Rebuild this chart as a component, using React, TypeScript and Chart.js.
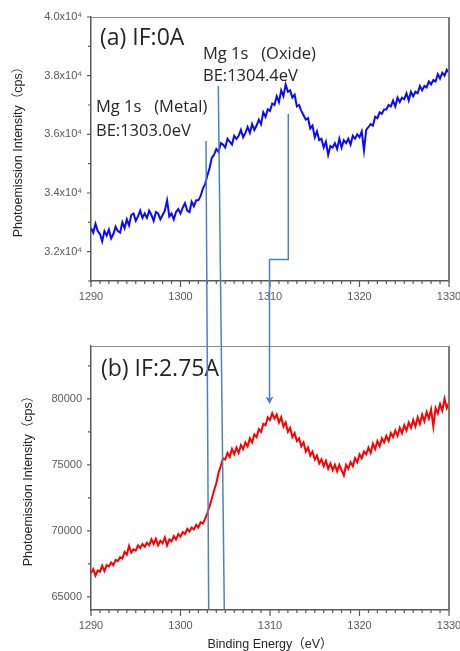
import React, { useEffect, useRef } from 'react';
import { Chart, registerables } from 'chart.js';

Chart.register(...registerables);

// ---- data ----
const ENERGY_START = 1290; // eV, first sample
const ENERGY_STEP = 0.25; // eV, sampling step
const X_MIN = 1290;
const X_MAX = 1330;
const X_MAJOR_TICKS = [1290, 1300, 1310, 1320, 1330];
const X_MINOR_STEP = 1;

const TOP_Y_MIN = 31000;
const TOP_Y_MAX = 40000;
const TOP_Y_MAJOR = [32000, 34000, 36000, 38000, 40000];
const TOP_Y_MINOR = [31000, 33000, 35000, 37000, 39000];

const BOTTOM_Y_MIN = 64000;
const BOTTOM_Y_MAX = 84000;
const BOTTOM_Y_MAJOR = [65000, 70000, 75000, 80000];
const BOTTOM_Y_MINOR = [67500, 72500, 77500, 82500];

// (a) IF:0A  (cps)
const SERIES_A = [
  32800, 32650, 32950, 32700, 32600, 32350, 32700, 32550,
  32750, 32450, 32600, 32850, 32700, 32650, 33000, 32800,
  33100, 32900, 33250, 33300, 33050, 33200, 33400, 33150,
  33300, 33150, 33400, 33250, 33050, 33350, 33300, 33100,
  33250, 33400, 33750, 33200, 33300, 33100, 33350, 33450,
  33300, 33500, 33650, 33400, 33350, 33700, 33550, 33750,
  33750, 33900, 34150, 34300, 34600, 34850, 35200, 35300,
  35500, 35400, 35700, 35650, 35550, 35850, 35750, 35650,
  35950, 35850, 35950, 36150, 35900, 36050, 36250, 36050,
  36350, 36150, 36300, 36500, 36350, 36750, 36600, 36850,
  36800, 37050, 37000, 37300, 37100, 37500, 37300, 37700,
  37450, 37500, 37250, 37350, 36950, 37000, 36800, 36650,
  36500, 36550, 36200, 36300, 35900, 36100, 35800, 35850,
  35550, 35750, 35300, 35600, 35550, 35700, 35500, 35850,
  35550, 35800, 35700, 35850, 35650, 35950, 35850, 36000,
  35900, 36100, 35450, 36150, 36250, 36350, 36300, 36600,
  36550, 36750, 36700, 36850, 36850, 37000, 36950, 37150,
  36950, 37250, 37100, 37250, 37200, 37400, 37150, 37450,
  37300, 37450, 37400, 37650, 37500, 37650, 37600, 37800,
  37700, 37850, 37800, 38050, 37900, 38100, 38000, 38200,
  38100,
];

// (b) IF:2.75A  (cps)
const SERIES_B = [
  66800, 67100, 66600, 67000, 66900, 67350, 66950, 67400,
  67300, 67600, 67400, 67800, 67700, 68000, 67900, 68400,
  68200, 68850, 68350, 68600, 68500, 68900, 68700, 69000,
  68800, 69100, 68900, 69350, 69000, 69400, 68900, 69250,
  69050, 69500, 68900, 69350, 69200, 69600, 69350, 69750,
  69550, 69900, 69750, 70150, 69950, 70250, 70100, 70450,
  70250, 70650, 70550, 70900, 71350, 71850, 72450, 73050,
  73600, 74400, 74900, 75500, 75400, 75900, 75600, 76200,
  75800, 76300, 75900, 76500, 76200, 76700, 76400, 77000,
  76700, 77300, 77100, 77700, 77500, 78100, 78000, 78600,
  78400, 78900, 78500, 78800, 78200, 78600, 77900, 78200,
  77500, 77800, 77100, 77400, 76800, 77000, 76400, 76700,
  76000, 76300, 75700, 76000, 75400, 75700, 75100, 75400,
  74900, 75300, 74700, 75100, 74600, 75000, 74500, 75000,
  74600, 74200, 75000, 74700, 75200, 74900, 75500, 75200,
  75800, 75500, 76000, 75800, 76300, 75900, 76600, 76200,
  76800, 76400, 77000, 76700, 77200, 76800, 77400, 77100,
  77600, 77200, 77800, 77400, 78000, 77600, 78200, 77800,
  78400, 77900, 78600, 78100, 78800, 78300, 79000, 78500,
  79200, 77900, 79300, 78900, 79600, 79100, 80000, 79300,
  79700,
];

const Y_TITLE = 'Photoemission Intensity（cps）';
const X_TITLE = 'Binding Energy（eV）';

const TICK_FONT = "'Liberation Sans', 'DejaVu Sans', sans-serif";
const TITLE_FONT = "'Liberation Sans', 'Noto Sans CJK JP', sans-serif";
const ANNOT_FONT = "'Open Sans', 'Noto Sans', sans-serif";

const toPoints = (vals: number[]) =>
  vals.map((v, i) => ({ x: ENERGY_START + i * ENERGY_STEP, y: v }));

const axisTicksPlugin = {
  id: 'axisTicks',
  afterDraw(chart: any, _args: any, opts: any) {
    const { ctx, chartArea } = chart;
    const { left, right, top, bottom } = chartArea;
    const xs = chart.scales.x;
    const ys = chart.scales.y;
    ctx.save();
    // frame top & right
    ctx.strokeStyle = '#8c8c8c';
    ctx.lineWidth = 1;
    ctx.beginPath();
    ctx.moveTo(left, top + 0.5);
    ctx.lineTo(right, top + 0.5);
    ctx.stroke();
    ctx.strokeStyle = '#7a7a7a';
    ctx.lineWidth = 2;
    ctx.beginPath();
    ctx.moveTo(right, top);
    ctx.lineTo(right, bottom);
    ctx.stroke();
    // tick marks
    ctx.strokeStyle = '#595959';
    ctx.lineWidth = 1.2;
    ctx.beginPath();
    for (let v = X_MIN; v <= X_MAX; v += X_MINOR_STEP) {
      const px = xs.getPixelForValue(v);
      const len = X_MAJOR_TICKS.includes(v) ? 6 : 3;
      ctx.moveTo(px, bottom);
      ctx.lineTo(px, bottom + len);
    }
    for (const v of opts.yMajor) {
      const py = ys.getPixelForValue(v);
      ctx.moveTo(left - 4, py);
      ctx.lineTo(left, py);
    }
    for (const v of opts.yMinor) {
      const py = ys.getPixelForValue(v);
      ctx.moveTo(left - 3, py);
      ctx.lineTo(left, py);
    }
    ctx.stroke();
    ctx.restore();
  },
};

function makeConfig(p: {
  values: number[];
  color: string;
  yMin: number;
  yMax: number;
  yMajor: number[];
  yMinor: number[];
  yFormat: (v: number) => string;
  padTop: number;
  xHeight: number;
  yTitlePad: number;
  xTitle: boolean;
}): any {
  return {
    type: 'line',
    data: {
      datasets: [
        {
          data: toPoints(p.values),
          borderColor: p.color,
          borderWidth: 2,
          pointRadius: 0,
          tension: 0,
          fill: false,
        },
      ],
    },
    options: {
      responsive: false,
      animation: false,
      events: [],
      layout: { padding: { left: 0, right: 11, top: p.padTop, bottom: 0 } },
      plugins: {
        legend: { display: false },
        tooltip: { enabled: false },
        axisTicks: { yMajor: p.yMajor, yMinor: p.yMinor },
      },
      scales: {
        x: {
          type: 'linear',
          min: X_MIN,
          max: X_MAX,
          grid: { display: false, drawTicks: false },
          border: { display: true, color: '#595959', width: 1.5 },
          afterBuildTicks: (s: any) => {
            s.ticks = X_MAJOR_TICKS.map((v) => ({ value: v }));
          },
          afterFit: (s: any) => {
            s.height = p.xHeight;
            s.paddingLeft = 0;
            s.paddingRight = 0;
          },
          ticks: {
            color: '#595959',
            font: { family: TICK_FONT, size: 11 },
            padding: 9,
            maxRotation: 0,
            autoSkip: false,
            callback: (v: any) => String(v),
          },
          title: p.xTitle
            ? {
                display: true,
                text: X_TITLE,
                color: '#262626',
                font: { family: TITLE_FONT, size: 12.5 },
                padding: { top: 0, bottom: 7.8 },
              }
            : { display: false },
        },
        y: {
          type: 'linear',
          min: p.yMin,
          max: p.yMax,
          grid: { display: false, drawTicks: false },
          border: { display: true, color: '#595959', width: 1.5 },
          afterBuildTicks: (s: any) => {
            s.ticks = p.yMajor.map((v) => ({ value: v }));
          },
          afterFit: (s: any) => {
            s.width = 91;
          },
          ticks: {
            color: '#595959',
            font: { family: TICK_FONT, size: 11 },
            padding: 9,
            autoSkip: false,
            callback: (v: any) => p.yFormat(Number(v)),
          },
          title: {
            display: true,
            text: Y_TITLE,
            color: '#262626',
            font: { family: TITLE_FONT, size: 12.5 },
            padding: { top: p.yTitlePad, bottom: 0 },
          },
        },
      },
    },
    plugins: [axisTicksPlugin],
  };
}

const LINE_COLOR = '#4f81bd';

export default function App() {
  const topRef = useRef<HTMLCanvasElement>(null);
  const botRef = useRef<HTMLCanvasElement>(null);

  useEffect(() => {
    const top = new Chart(
      topRef.current!,
      makeConfig({
        values: SERIES_A,
        color: '#0a0aff',
        yMin: TOP_Y_MIN,
        yMax: TOP_Y_MAX,
        yMajor: TOP_Y_MAJOR,
        yMinor: TOP_Y_MINOR,
        yFormat: (v) => (v / 10000).toFixed(1) + 'x10⁴',
        padTop: 17,
        xHeight: 39,
        yTitlePad: 10.8,
        xTitle: false,
      })
    );
    const bot = new Chart(
      botRef.current!,
      makeConfig({
        values: SERIES_B,
        color: '#ff0000',
        yMin: BOTTOM_Y_MIN,
        yMax: BOTTOM_Y_MAX,
        yMajor: BOTTOM_Y_MAJOR,
        yMinor: BOTTOM_Y_MINOR,
        yFormat: (v) => String(v),
        padTop: 26,
        xHeight: 50,
        yTitlePad: 20.8,
        xTitle: true,
      })
    );
    return () => {
      top.destroy();
      bot.destroy();
    };
  }, []);

  const textStyle: React.CSSProperties = { whiteSpace: 'pre' };

  return (
    <div
      style={{
        position: 'absolute',
        left: 0,
        top: 0,
        width: 460,
        height: 651,
        overflow: 'hidden',
        background: '#fff',
      }}
    >
      <canvas
        ref={topRef}
        width={460}
        height={320}
        style={{ position: 'absolute', left: 0, top: 0, width: 460, height: 320 }}
      />
      <canvas
        ref={botRef}
        width={460}
        height={340}
        style={{ position: 'absolute', left: 0, top: 320, width: 460, height: 340 }}
      />
      <svg
        width={460}
        height={651}
        style={{ position: 'absolute', left: 0, top: 0, pointerEvents: 'none' }}
      >
        <g fill="#262626" fontFamily={ANNOT_FONT}>
          <text x={100} y={45} fontSize={23} style={textStyle}>(a) IF:0A</text>
          <text x={203} y={59} fontSize={16.5} style={textStyle}>Mg 1s   (Oxide)</text>
          <text x={203} y={81} fontSize={16.5} style={textStyle}>BE:1304.4eV</text>
          <text x={96} y={112} fontSize={16.5} style={textStyle}>Mg 1s   (Metal)</text>
          <text x={96} y={136} fontSize={16.5} style={textStyle}>BE:1303.0eV</text>
          <text x={101} y={376} fontSize={23} style={textStyle}>(b) IF:2.75A</text>
        </g>
        <g stroke={LINE_COLOR} strokeWidth={1.5} fill="none">
          <line x1={206} y1={141} x2={208.7} y2={610} />
          <line x1={218.3} y1={86} x2={224.3} y2={610} />
          <polyline points="288.3,114 288.3,259.5 269.5,259.5 269.5,399" />
        </g>
        <path d="M269.5,404 L265.5,396.5 L269.5,398.5 L273.5,396.5 Z" fill={LINE_COLOR} />
      </svg>
    </div>
  );
}
